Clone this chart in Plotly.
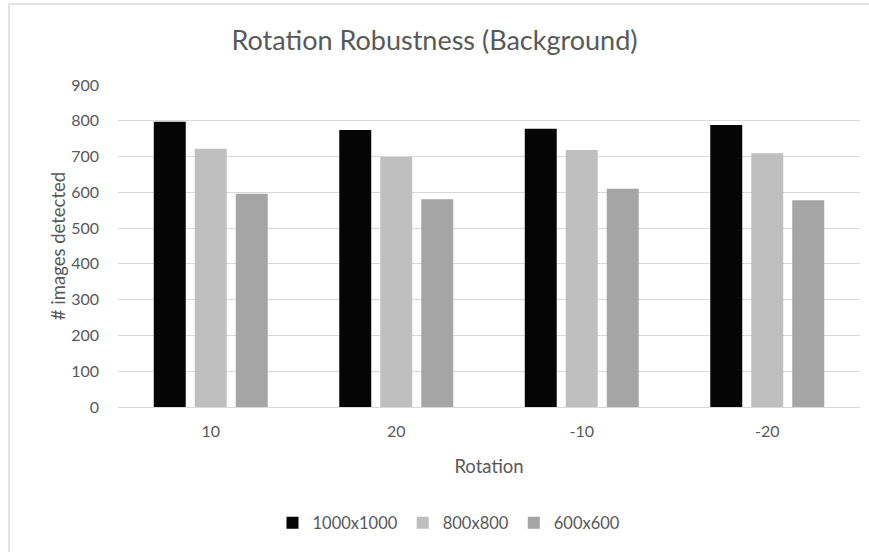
import plotly.graph_objects as go

rotations = ["10", "20", "-10", "-20"]
series_names = ["1000x1000", "800x800", "600x600"]
detected_1000 = [797, 774, 778, 788]
detected_800 = [722, 699, 718, 709]
detected_600 = [596, 581, 610, 578]
series_colors = ["#050505", "#bfbfbf", "#a5a5a5"]

font_family = "Lato, 'Open Sans', sans-serif"
text_color = "#595959"

fig = go.Figure()
for name, values, color in zip(series_names, [detected_1000, detected_800, detected_600], series_colors):
    fig.add_trace(go.Bar(x=rotations, y=values, name=name, marker=dict(color=color, line=dict(width=0))))

# Pixel geometry of the plot area, used to place the chart frame lines
W, H = 869, 552
ml, mr, mt, mb = 118, 9, 85, 145
pw, ph = W - ml - mr, H - mt - mb

def px_x(x):
    return (x - ml) / pw

def px_y(y):
    return (H - mb - y) / ph

fig.update_layout(
    width=W, height=H,
    margin=dict(l=ml, r=mr, t=mt, b=mb),
    paper_bgcolor="white", plot_bgcolor="white",
    barmode="group", bargap=0.337, bargroupgap=0.22,
    font=dict(family=font_family, color=text_color, size=16),
    title=dict(text="Rotation Robustness (Background)", x=0.5, xanchor="center",
               y=1 - 41 / H, yanchor="middle",
               font=dict(size=27, color=text_color, family=font_family)),
    xaxis=dict(title=dict(text="Rotation", font=dict(size=18.5), standoff=20),
               showgrid=False, showline=True, linecolor="#d9d9d9", linewidth=1,
               ticks="", tickfont=dict(size=16), ticklabelstandoff=10, fixedrange=True),
    yaxis=dict(title=dict(text="# images detected", font=dict(size=18.5), standoff=0),
               range=[0, 900], dtick=100, showgrid=True, gridcolor="#d9d9d9",
               gridwidth=1, zeroline=False, showline=False, ticks="",
               tickfont=dict(size=16), ticklabelstandoff=18),
    legend=dict(orientation="h", x=px_x(449), xanchor="center", y=px_y(523), yanchor="middle",
                font=dict(size=16.5), itemwidth=30, traceorder="normal"),
    showlegend=True,
    shapes=[
        dict(type="line", xref="paper", yref="paper", x0=px_x(9), x1=px_x(9),
             y0=px_y(4), y1=px_y(H), line=dict(color="#d9d9d9", width=1.5)),
        dict(type="line", xref="paper", yref="paper", x0=px_x(9), x1=px_x(W),
             y0=px_y(4), y1=px_y(4), line=dict(color="#d9d9d9", width=1.5)),
    ],
)

fig.write_html("out.html")
